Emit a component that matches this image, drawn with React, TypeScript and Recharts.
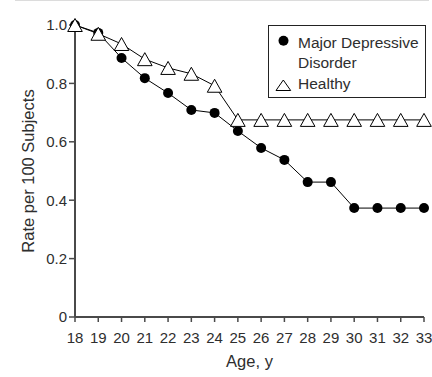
import React from 'react';
import { LineChart, Line, XAxis, YAxis, Legend } from 'recharts';

const ages = [18, 19, 20, 21, 22, 23, 24, 25, 26, 27, 28, 29, 30, 31, 32, 33];
const mddValues = [1.0, 0.973, 0.887, 0.818, 0.767, 0.709, 0.699, 0.637, 0.579, 0.538, 0.462, 0.462, 0.373, 0.373, 0.373, 0.373];
const healthyValues = [1.0, 0.97, 0.935, 0.883, 0.853, 0.833, 0.792, 0.675, 0.675, 0.675, 0.675, 0.675, 0.675, 0.675, 0.675, 0.675];
const yTicks = [0, 0.2, 0.4, 0.6, 0.8, 1.0];
const seriesNames = ['Major Depressive Disorder', 'Healthy'];

const data = ages.map((age, i) => ({ age, mdd: mddValues[i], healthy: healthyValues[i] }));

const FONT = '"Liberation Sans", Arial, Helvetica, sans-serif';
const TEXT = '#2e2e2e';
const AXIS = '#4a4a4a';

const Triangle = (props: any) => {
  const { cx, cy } = props;
  if (cx == null || cy == null) return null;
  return (
    <polygon
      points={`${cx},${cy - 6.5} ${cx - 7.3},${cy + 6.5} ${cx + 7.3},${cy + 6.5}`}
      fill="#fff"
      stroke="#000"
      strokeWidth={1}
    />
  );
};

const CircleDot = (props: any) => {
  const { cx, cy } = props;
  if (cx == null || cy == null) return null;
  return <circle cx={cx} cy={cy} r={5} fill="#000" stroke="none" />;
};

const LegendBox = () => (
  <svg width={158} height={73} style={{ display: 'block' }}>
    <rect x={0.5} y={0.5} width={157} height={72} fill="#fff" stroke="#222" strokeWidth={1} />
    <circle cx={15.5} cy={15.7} r={5} fill="#000" />
    <text x={30} y={22.5} fontFamily={FONT} fontSize={15.5} fill={TEXT}>Major Depressive</text>
    <text x={30} y={43} fontFamily={FONT} fontSize={15.5} fill={TEXT}>Disorder</text>
    <polygon points="15.3,55 8,65.5 22.7,65.5" fill="#fff" stroke="#000" strokeWidth={1} />
    <text x={30} y={64} fontFamily={FONT} fontSize={15.5} fill={TEXT}>{seriesNames[1]}</text>
  </svg>
);

const fmt = (v: number) => (v === 0 ? '0' : v.toFixed(1));

export default function App() {
  return (
    <div style={{ position: 'absolute', left: 0, top: 0, width: 432, height: 377, background: '#fff' }}>
      <div style={{ position: 'absolute', left: 15, top: 0, width: 414, height: 1, background: '#dcdcdc' }} />
      <LineChart
        width={432}
        height={377}
        data={data}
        margin={{ top: 25, right: 8, bottom: 0, left: 0 }}
        style={{ fontFamily: FONT }}
      >
        <XAxis
          dataKey="age"
          type="number"
          domain={[18, 33]}
          ticks={ages}
          interval={0}
          height={60}
          tickSize={5}
          tickMargin={10}
          stroke={AXIS}
          strokeWidth={2}
          tick={{ fill: TEXT, fontSize: 15, fontFamily: FONT }}
          tickLine={{ stroke: AXIS, strokeWidth: 1.5 }}
          label={{ value: 'Age, y', position: 'insideBottom', offset: 10, fill: TEXT, fontSize: 16.5, fontFamily: FONT }}
        />
        <YAxis
          type="number"
          domain={[0, 1]}
          ticks={yTicks}
          width={75}
          tickFormatter={fmt}
          tickSize={6}
          tickMargin={2}
          stroke={AXIS}
          strokeWidth={2}
          tick={{ fill: TEXT, fontSize: 15, fontFamily: FONT }}
          tickLine={{ stroke: AXIS, strokeWidth: 1.5 }}
          label={{
            value: 'Rate per 100 Subjects',
            angle: -90,
            position: 'insideLeft',
            offset: 28,
            fill: TEXT,
            fontSize: 16.5,
            fontFamily: FONT,
            style: { textAnchor: 'middle' },
          }}
        />
        <Legend
          layout="vertical"
          align="center"
          verticalAlign="middle"
          wrapperStyle={{ left: 268, top: 25, width: 158, height: 73 }}
          content={() => <LegendBox />}
        />
        <Line
          name={seriesNames[0]}
          dataKey="mdd"
          stroke="#000"
          strokeWidth={1}
          dot={<CircleDot />}
          activeDot={false}
          isAnimationActive={false}
        />
        <Line
          name={seriesNames[1]}
          dataKey="healthy"
          stroke="#000"
          strokeWidth={1}
          dot={<Triangle />}
          activeDot={false}
          isAnimationActive={false}
        />
      </LineChart>
    </div>
  );
}
